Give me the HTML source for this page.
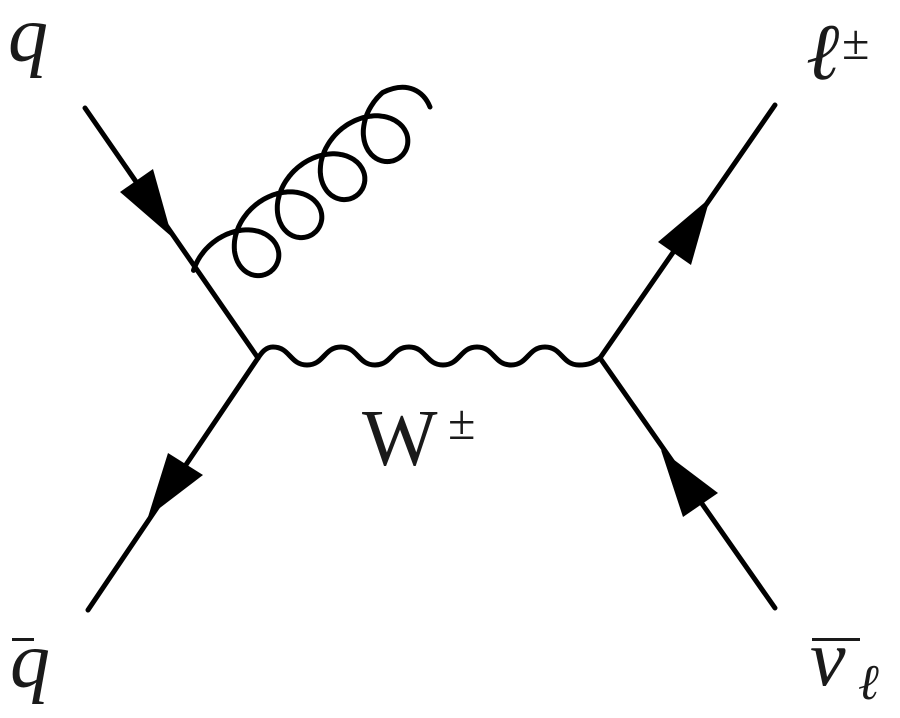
<!DOCTYPE html>
<html><head><meta charset="utf-8"><style>
html,body{margin:0;padding:0;background:#fff;}
body{position:relative;width:900px;height:718px;overflow:hidden;}
svg{display:block;position:absolute;left:0;top:0;}
.t{position:absolute;font-family:"Liberation Serif","Times New Roman",serif;color:#1a1a1a;line-height:1;white-space:nowrap;margin:0;}
.i{font-style:italic;}
.b{position:absolute;background:#1a1a1a;height:3px;}
</style></head><body>
<svg width="900" height="718" viewBox="0 0 900 718" xmlns="http://www.w3.org/2000/svg">
<g stroke="#000" stroke-width="5" fill="none" stroke-linecap="round">
<line x1="85" y1="108" x2="258" y2="358"/>
<line x1="258" y1="358" x2="88" y2="610"/>
<line x1="600" y1="358" x2="775" y2="105"/>
<line x1="600" y1="358" x2="775" y2="608"/>
<path d="M258,358 C262,352 266,347 273,347 C290,347 290,365 307,365 C324,365 324,347 341,347 C358,347 358,365 375,365 C392,365 392,347 409,347 C426,347 426,365 443,365 C460,365 460,347 477,347 C494,347 494,365 511,365 C528,365 528,347 545,347 C562,347 562,365 579,365 C590,365 594,362 600,358"/>
<path id="gluon" d=""/>
</g>
<g fill="#000">
<polygon points="172,237 120,192 153,169"/>
<polygon points="148,517 168,453 203,475"/>
<polygon points="710,198 658,242 691,265"/>
<polygon points="661,450 683,517 718,493"/>
</g>
</svg>
<div class="t i" style="left:8px;top:-5px;font-size:80px;">q</div>
<div class="t i" style="left:806px;top:13px;font-size:80px;">ℓ</div>
<div class="t" style="left:842px;top:17px;font-size:50px;">±</div>
<div class="t i" style="left:10px;top:621px;font-size:80px;">q</div>
<div class="b" style="left:12px;top:638px;width:22px;"></div>
<div class="t i" style="left:810px;top:619px;font-size:80px;">ν</div>
<div class="b" style="left:812px;top:638px;width:48px;"></div>
<div class="t i" style="left:858px;top:657px;font-size:50px;">ℓ</div>
<div class="t" style="left:362px;top:399px;font-size:80px;">W</div>
<div class="t" style="left:448px;top:397px;font-size:50px;">±</div>
<script>
(function(){
var u=[0.749,-0.662], dd=[0.662,0.749], C=[252,248];
var v=9.14, Ru=34, Rn=30;
var d="", N=600, st=-Math.PI-0.75, end=7*Math.PI;
for(var i=0;i<=N;i++){
 var p=st+(end-st)*i/N;
 var a=v*p-Ru*Math.sin(p), b=Rn*Math.cos(p);
 var x=C[0]+u[0]*a+dd[0]*b, y=C[1]+u[1]*a+dd[1]*b;
 d+=(i==0?"M":" L")+x.toFixed(1)+","+y.toFixed(1);
}
d+=" C408,80 424,92 430,107";
document.getElementById("gluon").setAttribute("d",d);
})();
</script>
</body></html>
